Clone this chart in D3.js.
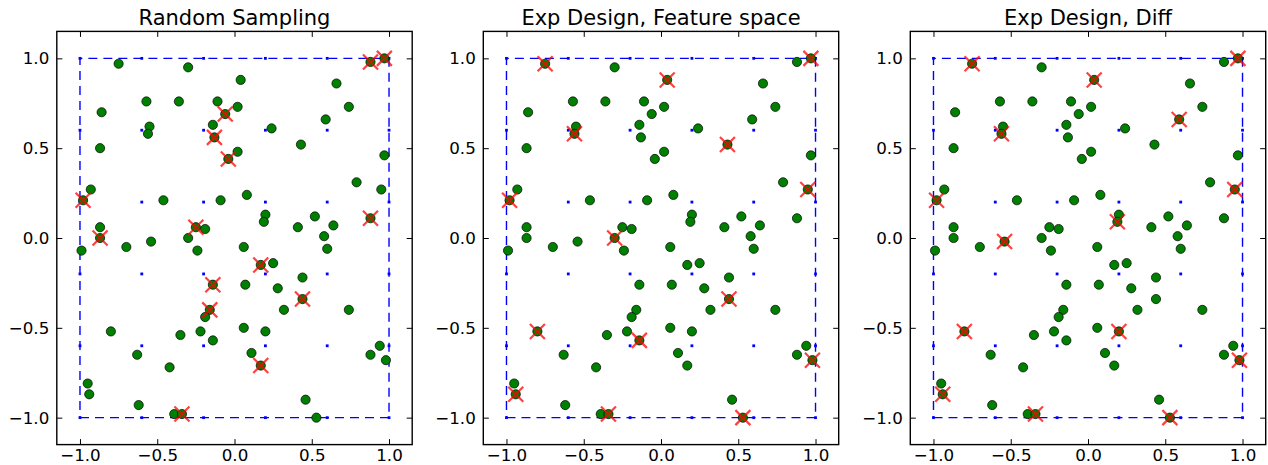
<!DOCTYPE html>
<html>
<head>
<meta charset="utf-8">
<script src="https://cdnjs.cloudflare.com/ajax/libs/d3/7.8.5/d3.min.js"></script>
<style>
  body { margin: 0; background: #fff; }
  text { font-family: "DejaVu Sans", sans-serif; fill: #000; }
</style>
</head>
<body>
<script>
// three panels, same candidate points, different picked subsets

var titles = ["Random Sampling", "Exp Design, Feature space", "Exp Design, Diff"];

// candidate points (green)
var xs = [-0.75, -0.30, 0.88, 0.97, 0.04, 0.66, -0.57, -0.36, -0.11, 0.02,
          0.74, -0.86, -0.06, 0.59, -0.55, -0.14, 0.24, -0.56, -0.13, 0.43,
          -0.87, 0.02, -0.04, 0.97, 0.79, 0.95, -0.93, -0.98, -0.46, -0.09,
          0.08, 0.20, 0.19, 0.52, 0.88, -0.87, -0.25, -0.19, 0.41, 0.64,
          -0.87, -0.30, -0.54, 0.58, -0.99, -0.70, -0.24, 0.06, 0.60, 0.17,
          0.25, 0.44, -0.14, 0.07, 0.28, 0.44, 0.32, -0.16, 0.74, -0.19,
          -0.80, -0.22, 0.06, 0.20, -0.35, -0.14, 0.94, -0.63, 0.11, 0.88,
          0.98, 0.17, -0.42, -0.95, -0.94, -0.62, 0.46, -0.39, -0.34, 0.53];
var ys = [0.97, 0.95, 0.98, 1.00, 0.88, 0.86, 0.76, 0.76, 0.76, 0.73,
          0.73, 0.70, 0.69, 0.66, 0.62, 0.63, 0.61, 0.58, 0.56, 0.52,
          0.50, 0.48, 0.44, 0.46, 0.31, 0.27, 0.27, 0.21, 0.21, 0.21,
          0.24, 0.13, 0.09, 0.12, 0.11, 0.06, 0.06, 0.05, 0.06, 0.07,
          0.00, 0.00, -0.02, 0.01, -0.07, -0.05, -0.07, -0.05, -0.06, -0.15,
          -0.14, -0.22, -0.26, -0.26, -0.28, -0.34, -0.40, -0.40, -0.40, -0.44,
          -0.52, -0.52, -0.50, -0.52, -0.54, -0.57, -0.60, -0.65, -0.64, -0.65,
          -0.68, -0.71, -0.72, -0.81, -0.87, -0.93, -0.90, -0.98, -0.98, -1.00];

// indices of the picked points in each panel (red x)
var picked = [
  [2, 3, 12, 18, 22, 27, 34, 36, 40, 49, 52, 55, 57, 71, 78],
  [0, 4, 3, 17, 19, 27, 25, 41, 60, 65, 55, 70, 74, 78, 79],
  [0, 4, 3, 17, 13, 27, 25, 32, 42, 60, 63, 70, 74, 78, 79]
];

// design grid and box
var gridVals = [-1, -0.6, -0.2, 0.2, 0.6, 1];
var boxX = [-1, 1, 1, -1, -1];
var boxY = [-1, -1, 1, 1, -1];
var tickVals = [-1, -0.5, 0, 0.5, 1];

var svgWidth = 1268;
var svgHeight = 465;
var panelLeft = [56.8, 483.3, 910.3];
var panelTop = 31.4;
var width = 355.4;
var height = 413.2;

var svg = d3.select("body")
  .append("svg")
  .attr("width", svgWidth)
  .attr("height", svgHeight);

var xScale = d3.scaleLinear().domain([-1.15, 1.15]).range([0, width]);
var yScale = d3.scaleLinear().domain([-1.15, 1.15]).range([height, 0]);
var fmt = d3.format(".1f");

var grid = [];
gridVals.forEach(function (gx) {
  gridVals.forEach(function (gy) { grid.push([gx, gy]); });
});

titles.forEach(function (title, p) {
  var g = svg.append("g")
    .attr("transform", `translate(${panelLeft[p]}, ${panelTop})`);

  // dashed square
  var line = d3.line()
    .x(function (d, i) { return xScale(boxX[i]); })
    .y(function (d, i) { return yScale(boxY[i]); });
  g.append("path")
    .attr("d", line(boxX))
    .attr("fill", "none")
    .attr("stroke", "#0000ff")
    .attr("stroke-width", 1.4)
    .attr("stroke-dasharray", "9,6");

  // grid dots
  g.selectAll(".gdot")
    .data(grid)
    .enter().append("rect")
    .attr("x", d => xScale(d[0]) - 1.4)
    .attr("y", d => yScale(d[1]) - 1.4)
    .attr("width", 2.8)
    .attr("height", 2.8)
    .attr("fill", "#0000ff");

  // all points
  g.selectAll(".pt")
    .data(xs)
    .enter().append("circle")
    .attr("cx", (d, i) => xScale(xs[i]))
    .attr("cy", (d, i) => yScale(ys[i]))
    .attr("r", 4.6)
    .attr("fill", "#008000")
    .attr("stroke", "#000")
    .attr("stroke-width", 0.7);

  // picked points
  var s = 7.5;
  g.selectAll(".xm")
    .data(picked[p])
    .enter().append("path")
    .attr("d", function (k) {
      var cx = xScale(xs[k]), cy = yScale(ys[k]);
      return `M${cx - s},${cy - s}L${cx + s},${cy + s}M${cx - s},${cy + s}L${cx + s},${cy - s}`;
    })
    .attr("stroke", "#ff0000")
    .attr("stroke-opacity", 0.75)
    .attr("stroke-width", 2.2)
    .attr("fill", "none");

  // axes, ticks pointing inward
  g.append("g")
    .attr("transform", "translate(0, " + height + ")")
    .call(d3.axisBottom(xScale).tickValues(tickVals).tickFormat(fmt)
      .tickSizeInner(-5.5).tickSizeOuter(0).tickPadding(4.5))
    .call(a => a.select(".domain").remove());
  g.append("g")
    .call(d3.axisLeft(yScale).tickValues(tickVals).tickFormat(fmt)
      .tickSizeInner(-5.5).tickSizeOuter(0).tickPadding(7.5))
    .call(a => a.select(".domain").remove());
  g.append("g")
    .call(d3.axisTop(xScale).tickValues(tickVals).tickFormat("")
      .tickSizeInner(-5.5).tickSizeOuter(0))
    .call(a => a.select(".domain").remove());
  g.append("g")
    .attr("transform", "translate(" + width + ", 0)")
    .call(d3.axisRight(yScale).tickValues(tickVals).tickFormat("")
      .tickSizeInner(-5.5).tickSizeOuter(0))
    .call(a => a.select(".domain").remove());

  g.selectAll(".tick text")
    .attr("font-family", "DejaVu Sans")
    .style("font-size", "16.7px");
  g.selectAll(".tick line").attr("stroke", "#000").attr("stroke-width", 1);

  // frame
  g.append("rect")
    .attr("width", width)
    .attr("height", height)
    .attr("fill", "none")
    .attr("stroke", "#000")
    .attr("stroke-width", 1.4);

  g.append("text")
    .attr("x", width / 2)
    .attr("y", -6.5)
    .attr("text-anchor", "middle")
    .style("font-size", "21px")
    .text(title);
});
</script>
</body>
</html>
